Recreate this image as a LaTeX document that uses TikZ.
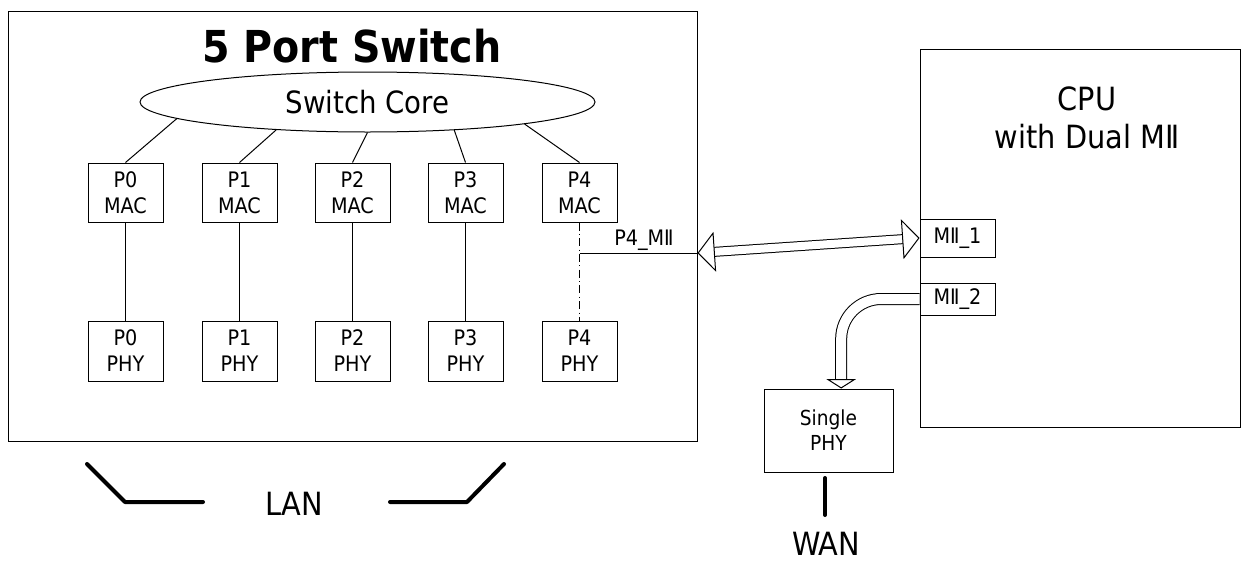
\documentclass[tikz,border=0pt]{standalone}
\usepackage{fontspec}
\setmainfont{DejaVu Sans Condensed}
\usetikzlibrary{arrows.meta,shapes.geometric}
\tikzset{
    outer-box/.style = {draw, line width=0.75pt, rectangle, inner sep=0pt},
    port-box/.style = {draw, line width=0.75pt, rectangle, minimum width=56.25pt, minimum height=44.25pt, inner sep=0pt, align=center, font=\fontsize{16}{19.5}\selectfont},
    mii-box/.style = {draw, line width=0.75pt, rectangle, minimum width=56.25pt, inner sep=0pt, font=\fontsize{16}{18}\selectfont},
    core-ellipse/.style = {draw, line width=0.75pt, ellipse, minimum width=341.25pt, minimum height=45pt, inner sep=0pt, font=\fontsize{23}{27}\selectfont},
    big-label/.style = {font=\fontsize{24}{28.5}\selectfont, align=center},
    link/.style = {line width=0.75pt},
    fat-arrow/.style = {line width=0.75pt, double, double distance=6pt, {Triangle[length=13pt,width=30pt,fill=white,line width=0.75pt]}-{Triangle[length=13pt,width=30pt,fill=white,line width=0.75pt]}},
    bend-arrow/.style = {line width=0.75pt, double, double distance=7.5pt, rounded corners=30pt, -{Triangle[length=7pt,width=22pt,fill=white,line width=0.75pt]}},
    lan-mark/.style = {line width=3pt, line cap=round, line join=round},
}

\begin{document}
\begin{tikzpicture}[x=0.75pt, y=-0.75pt]
\useasboundingbox (0,0) rectangle (1241,561);

% switch
\node [outer-box, minimum width=516.75pt, minimum height=322.5pt] (switch) at (352.5,226) {};
\node [font=\fontsize{33}{40}\selectfont\bfseries] (title) at (352,46) {5 Port Switch};
\node [core-ellipse] (core) at (367.5,102) {Switch Core};

\node [port-box] (mac0) at (125.5,192.5) {P0\\MAC};
\node [port-box] (mac1) at (239.5,192.5) {P1\\MAC};
\node [port-box] (mac2) at (352.5,192.5) {P2\\MAC};
\node [port-box] (mac3) at (465.5,192.5) {P3\\MAC};
\node [port-box] (mac4) at (579.5,192.5) {P4\\MAC};

\node [port-box, minimum height=45pt] (phy0) at (125.5,351) {P0\\PHY};
\node [port-box, minimum height=45pt] (phy1) at (239.5,351) {P1\\PHY};
\node [port-box, minimum height=45pt] (phy2) at (352.5,351) {P2\\PHY};
\node [port-box, minimum height=45pt] (phy3) at (465.5,351) {P3\\PHY};
\node [port-box, minimum height=45pt] (phy4) at (579.5,351) {P4\\PHY};

\draw [link] (mac0.north) -- (core.185.4);
\draw [link] (mac1.north) -- (core.197);
\draw [link] (mac2.north) -- (core.270);
\draw [link] (mac3.north) -- (core.342);
\draw [link] (mac4.north) -- (core.352);

\draw [link] (mac0) -- (phy0);
\draw [link] (mac1) -- (phy1);
\draw [link] (mac2) -- (phy2);
\draw [link] (mac3) -- (phy3);
\draw [link, dash pattern=on 6pt off 2.5pt on 0.8pt off 2.5pt] (mac4) -- (phy4);

\coordinate (tap) at (579.5,253);
\draw [link] (tap) -- (tap -| switch.east);
\node [font=\fontsize{16}{18}\selectfont] (p4mii) at (644,240) {P4\_MⅡ};

% cpu
\node [outer-box, minimum width=240pt, minimum height=283.5pt] (cpu) at (1080,238) {};
\node [big-label] (cpu-label) at (1087,118) {CPU\\with Dual MⅡ};
\node [mii-box, minimum height=28.5pt] (mii1) at (957.5,238) {MⅡ\_1};
\node [mii-box, minimum height=24pt] (mii2) at (957.5,299) {MⅡ\_2};

\draw [fat-arrow] (tap -| switch.east) -- (mii1.west);

% wan side
\node [outer-box, minimum width=96.75pt, minimum height=62.25pt, align=center, font=\fontsize{15.5}{18.75}\selectfont] (sphy) at (828.5,430.5) {Single\\PHY};
\draw [bend-arrow] (mii2.west) -| ([xshift=9.5pt]sphy.north);

\draw [lan-mark] (825,478) -- (825,515);
\node [big-label, inner sep=1pt] (wan) at (826,544) {WAN};

% lan
\draw [lan-mark] (87,464) -- (125,502) -- (203,502);
\draw [lan-mark] (390,502) -- (467,502) -- (504,464);
\node [big-label] (lan) at (294,504) {LAN};
\end{tikzpicture}
\end{document}
